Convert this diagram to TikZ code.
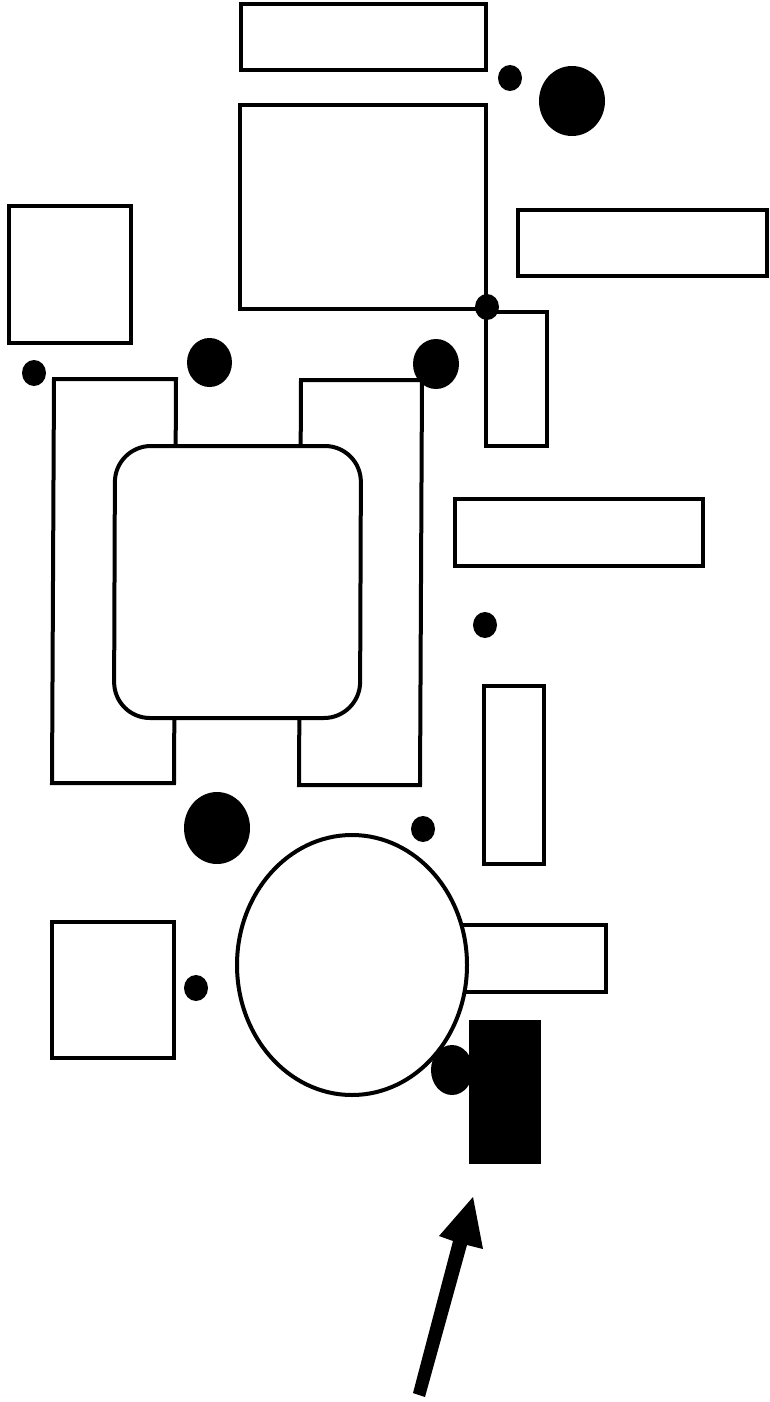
\documentclass[tikz,border=0pt]{standalone}
\tikzset{
  box/.style={draw=black,line width=2.4pt,fill=white,line join=miter},
  curvedbox/.style={draw=black,line width=3pt,fill=white,line join=miter},
  dot/.style={fill=black,draw=none},
}
\begin{document}
\begin{tikzpicture}[x=0.75pt,y=-0.75pt]
\useasboundingbox (0,0) rectangle (770,1402);
% separate boxes
\draw[box] (241,4) rectangle (486,70);
\draw[box] (240,105) rectangle (486,309);
\draw[box] (518,210) rectangle (767,276);
\draw[box] (9,206) rectangle (131,343);
\draw[box] (486,312) rectangle (547,446);
\draw[box] (455,499) rectangle (703,566);
\draw[box] (484,686) rectangle (544,864);
% frames behind the rounded block
\draw[curvedbox] (54,379) -- (176,379) -- (174,783) -- (52,783) -- cycle;
\draw[curvedbox] (301,380) -- (422,380) -- (420,785) -- (299,785) -- cycle;
\draw[curvedbox,rounded corners=27pt] (115,446) -- (361,446) -- (360,718) -- (114,718) -- cycle;
% lower group
\draw[box] (52,922) rectangle (174,1058);
\draw[box] (460,925) rectangle (606,992);
\draw[curvedbox] (352,965) ellipse [x radius=115,y radius=130];
\fill[black] (469,1020) rectangle (541,1164);
% dots
\fill[dot] (572,101) ellipse [x radius=33,y radius=35];
\fill[dot] (510,78) ellipse [x radius=12,y radius=13];
\fill[dot] (487,307) ellipse [x radius=12,y radius=13];
\fill[dot] (34,373) ellipse [x radius=12,y radius=13];
\fill[dot] (209.5,362.5) ellipse [x radius=22.5,y radius=24.5];
\fill[dot] (436,364) ellipse [x radius=23,y radius=25];
\fill[dot] (485,625) ellipse [x radius=12,y radius=13];
\fill[dot] (217,828) ellipse [x radius=33,y radius=36];
\fill[dot] (423,829) ellipse [x radius=12,y radius=13];
\fill[dot] (196,988) ellipse [x radius=12,y radius=13];
\fill[dot] (452,1070) ellipse [x radius=21,y radius=25];
% arrow
\fill[black] (473,1197) -- (483,1249) -- (467,1245) -- (425,1397) -- (413,1393) -- (453,1241) -- (439,1236) -- cycle;
\end{tikzpicture}
\end{document}
